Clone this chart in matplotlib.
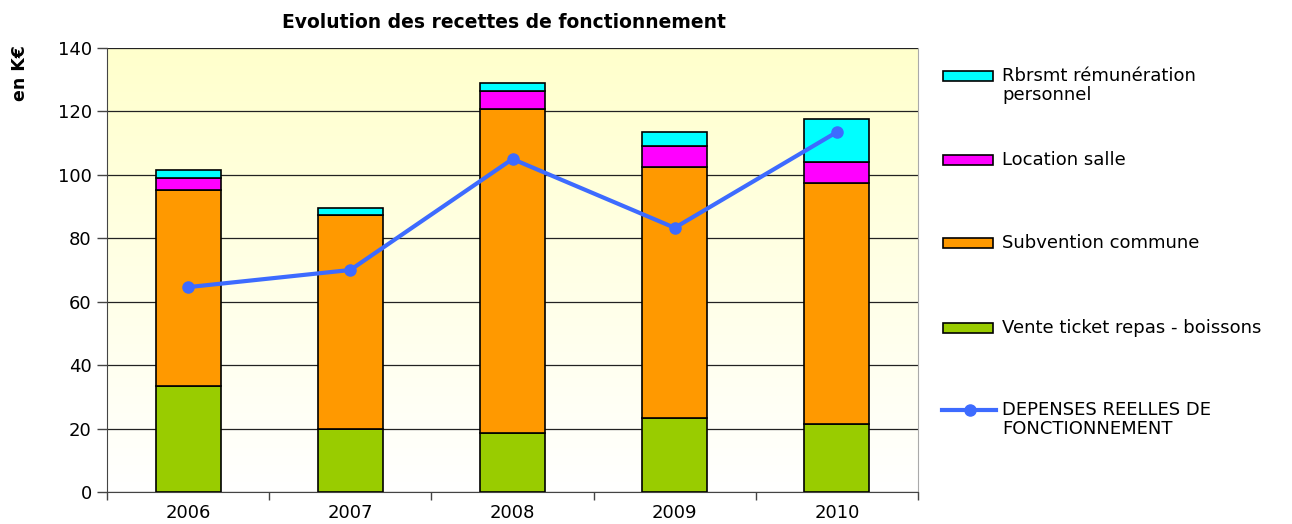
import numpy as np
import matplotlib
matplotlib.use("Agg")
from matplotlib import pyplot as plt
from matplotlib.patches import Rectangle
from matplotlib.lines import Line2D

plt.rcParams['font.family'] = ['DejaVu Sans']

years = ["2006", "2007", "2008", "2009", "2010"]
vente = [33.4, 19.9, 18.6, 23.3, 21.4]
subvention = [61.8, 67.5, 102.2, 79.2, 76.0]
location = [3.8, 0.0, 5.7, 6.6, 6.7]
rbrsmt = [2.5, 2.2, 2.5, 4.4, 13.5]
depenses = [64.6, 70.0, 105.0, 83.3, 113.5]

series = [
    ("Vente ticket repas - boissons", vente, "#99CC00"),
    ("Subvention commune", subvention, "#FF9900"),
    ("Location salle", location, "#FF00FF"),
    ("Rbrsmt rémunération\npersonnel", rbrsmt, "#00FFFF"),
]
line_label = "DEPENSES REELLES DE\nFONCTIONNEMENT"
line_color = "#3D6BFF"

W, H = 1292, 524
fig = plt.figure(figsize=(W / 100, H / 100), dpi=100)
ax = fig.add_axes([107 / W, 1 - 492 / H, (918 - 107) / W, (492 - 48) / H])

# gradient background (light yellow at top -> white at bottom)
grad = np.linspace(0, 1, 256).reshape(-1, 1)
top = np.array([1.0, 1.0, 0.80])
bot = np.array([1.0, 1.0, 1.0])
img = top[None, None, :] * (1 - grad[:, :, None]) + bot[None, None, :] * grad[:, :, None]
ax.imshow(img, extent=[0, 1, 0, 1], transform=ax.transAxes, aspect="auto", zorder=0)

x = np.arange(len(years))
bottom = np.zeros(len(years))
for name, vals, col in series:
    vals = np.array(vals)
    ax.bar(x, vals, width=0.4, bottom=bottom, color=col, edgecolor="black",
           linewidth=1.2, zorder=3)
    bottom += vals

ax.plot(x, depenses, color=line_color, lw=3, marker="o", ms=8, zorder=4)

ax.set_xlim(-0.5, len(years) - 0.5)
ax.set_ylim(0, 140)
ax.set_yticks(np.arange(0, 141, 20))
ax.yaxis.grid(True, color="#222222", lw=0.9, zorder=1)
ax.set_axisbelow(True)
ax.set_xticks(x)
ax.set_xticklabels(years)
ax.set_xticks(np.arange(-0.5, len(years), 1), minor=True)
ax.tick_params(axis="x", which="major", length=0, pad=9, labelsize=13)
ax.tick_params(axis="x", which="minor", length=6, width=1, color="#444444", direction="out")
ax.tick_params(axis="y", length=7, width=1, color="#444444", labelsize=13, pad=4)
ax.spines["top"].set_visible(False)
ax.spines["right"].set_color("#AAAAAA")
ax.spines["left"].set_color("#444444")
ax.spines["bottom"].set_color("#444444")

fig.text(504 / W, 1 - 22 / H, "Evolution des recettes de fonctionnement",
         ha="center", va="center", fontsize=13.5, fontweight="bold")
fig.text(20 / W, 1 - 45 / H, "en K€", rotation=90, ha="center", va="top",
         fontsize=12.5, fontweight="bold")

# legend, drawn at fixed spots on the right
ys = [76, 160, 243, 328]
for (name, vals, col), yy in zip(reversed(series), ys):
    fig.patches.append(Rectangle((943 / W, 1 - (yy + 5) / H), 50 / W, 10 / H,
                                 transform=fig.transFigure, facecolor=col,
                                 edgecolor="black", lw=1.2))
    fig.text(1002 / W, 1 - (yy - 9) / H, name, ha="left", va="top", fontsize=13,
             linespacing=1.1)
yy = 410
fig.lines.append(Line2D([942 / W, 996 / W], [1 - yy / H] * 2, transform=fig.transFigure,
                        color=line_color, lw=3))
fig.lines.append(Line2D([970 / W], [1 - yy / H], transform=fig.transFigure,
                        color=line_color, marker="o", ms=8))
fig.text(1002 / W, 1 - (yy - 9) / H, line_label, ha="left", va="top", fontsize=13,
         linespacing=1.1)

fig.savefig("out.png", dpi=100)
